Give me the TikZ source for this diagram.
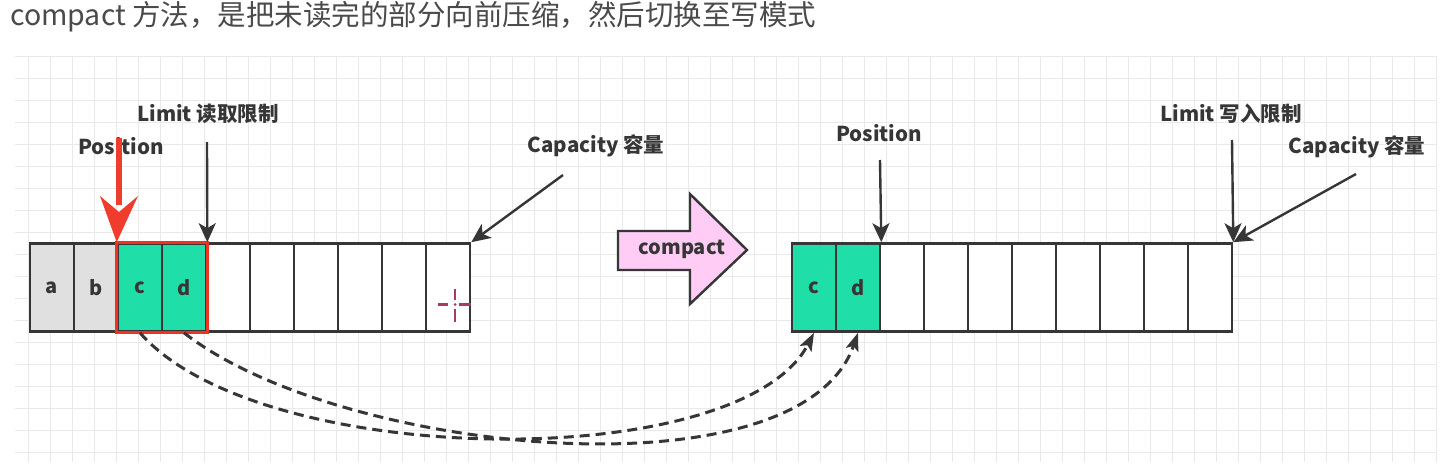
\documentclass[tikz,border=0pt]{standalone}
\usepackage{fontspec}
\setmainfont{Noto Sans CJK SC}
\usetikzlibrary{arrows.meta}
\definecolor{txt}{HTML}{363636}
\definecolor{gridc}{HTML}{E9E9E9}
\definecolor{cellgray}{HTML}{E0E0E0}
\definecolor{cellgreen}{HTML}{20DEA8}
\definecolor{redarrow}{HTML}{F03C2D}
\definecolor{redline}{HTML}{EE3322}
\definecolor{pinkfill}{HTML}{FFCCF5}
\definecolor{crossc}{HTML}{A83C5C}
\begin{document}
\begin{tikzpicture}[x=1pt,y=-1pt,
  cell/.style={draw=txt,line width=2.6pt,minimum width=44pt,minimum height=88pt,inner sep=0pt,
    font=\bfseries\fontsize{20}{20}\selectfont,text=txt},
  lbl/.style={font=\bfseries\fontsize{20.5}{20.5}\selectfont,text=txt,inner sep=0pt},
  ptr/.style={draw=txt,line width=2.4pt,-{Stealth[length=19pt,width=17pt,inset=5pt]}},
  mv/.style={draw=txt,line width=3pt,dash pattern=on 10pt off 6pt,-{Stealth[length=18pt,width=13pt,inset=4pt]}}
]
\useasboundingbox (0,0) rectangle (1444,466);
\fill[white] (0,0) rectangle (1444,466);
% grid
\foreach \k in {0,...,64} \draw[gridc,line width=0.9pt] ({28+22*\k},56) -- ({28+22*\k},462);
\foreach \k in {0,...,17} \draw[gridc,line width=0.9pt] (15,{78+22*\k}) -- (1436,{78+22*\k});
\draw[gridc,line width=0.9pt] (15,56) -- (1436,56);

% title
\node[anchor=west,inner sep=0pt,text=txt!90,font=\fontsize{28.5}{28.5}\selectfont] (title) at (10,17) {compact 方法，是把未读完的部分向前压缩，然后切换至写模式};

% left buffer
\node[cell,fill=cellgray] (l1) at (52,287.5) {a};
\node[cell,fill=cellgray] (l2) at (96,287.5) {b};
\node[cell,fill=cellgreen] (l3) at (140,287.5) {c};
\node[cell,fill=cellgreen] (l4) at (184,287.5) {d};
\foreach \i in {5,...,10} \node[cell,fill=white] (l\i) at ({52+44*(\i-1)},287.5) {};
\draw[redline,line width=3pt] (l3.north west) rectangle (l4.south east);

% crosshair mark in last cell
\begin{scope}[crossc,line width=2.8pt]
\draw (438,304.5) -- (448,304.5);
\draw (459,304.5) -- (471,304.5);
\draw (455,289) -- (455,300);
\draw (455,309) -- (455,322);
\fill (455,304.5) circle (1.5pt);
\end{scope}

% right buffer
\node[cell,fill=cellgreen] (r1) at (814,287.5) {c};
\node[cell,fill=cellgreen] (r2) at (858,287.5) {d};
\foreach \i in {3,...,10} \node[cell,fill=white] (r\i) at ({814+44*(\i-1)},287.5) {};

% labels
\node[lbl] (lpos) at (121,146) {Position};
\node[lbl] (llim) at (208,114) {Limit 读取限制};
\node[lbl] (lcap) at (596,146) {Capacity 容量};
\node[lbl] (rpos) at (879,133) {Position};
\node[lbl] (rlim) at (1231,114) {Limit 写入限制};
\node[lbl] (rcap) at (1357,147) {Capacity 容量};

% pointer arrows
\coordinate (llimS) at (207,142);
\coordinate (lcapS) at (563,175);
\coordinate (rposS) at (880,160);
\coordinate (rlimS) at (1232,140);
\coordinate (rcapS) at (1356,174);
\draw[ptr] (llimS) -- (l4.north east);
\draw[ptr] (lcapS) -- (l10.north east);
\draw[ptr] (rposS) -- (r2.north east);
\draw[ptr] (rlimS) -- (r10.north east);
\draw[ptr] (rcapS) -- (r10.north east);

% red position arrow
\coordinate (lposS) at (119,138);
\draw[redarrow,line width=6pt] (lposS) -- (119,205);
\fill[redarrow] (l3.north west) -- (100,196) -- (119,212) -- (138,196) -- cycle;

% compact arrow
\filldraw[fill=pinkfill,draw=txt,line width=2.4pt,line join=miter]
  (618,231) -- (690,231) -- (690,194) -- (747,250) -- (690,304) -- (690,270) -- (618,270) -- cycle;
\node[lbl,font=\bfseries\fontsize{20}{20}\selectfont] (cmp) at (682,249) {compact};

% move curves
\draw[mv] (l3.south) .. controls (260,470) and (740,475) .. (r1.south);
\draw[mv] (l4.south) .. controls (340,455) and (800,500) .. (r2.south);
\end{tikzpicture}
\end{document}
